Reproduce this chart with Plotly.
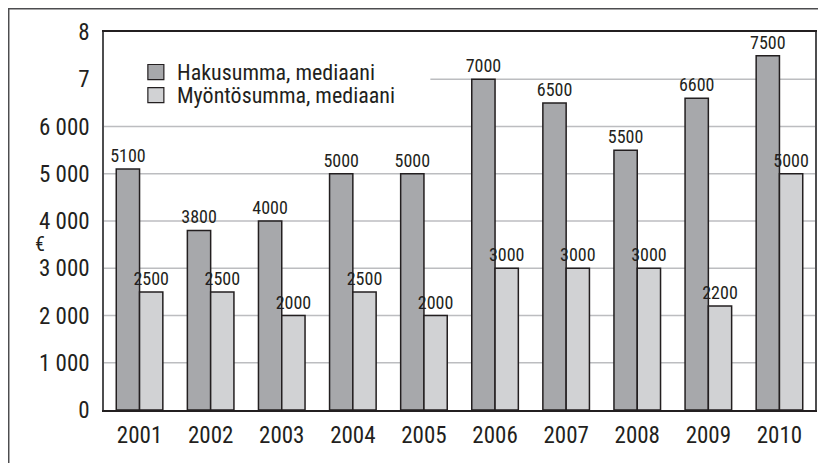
import plotly.graph_objects as go

years = ["2001", "2002", "2003", "2004", "2005", "2006", "2007", "2008", "2009", "2010"]
haku = [5100, 3800, 4000, 5000, 5000, 7000, 6500, 5500, 6600, 7500]
myonto = [2500, 2500, 2000, 2500, 2000, 3000, 3000, 3000, 2200, 5000]
series_names = ["Hakusumma, mediaani", "Myöntösumma, mediaani"]
series_colors = ["#a7a8ab", "#d1d2d4"]
ytick_vals = [0, 1000, 2000, 3000, 4000, 5000, 6000, 7000, 8000]
ytick_text = ["0", "1 000", "2 000", "3 000", "4 000", "5 000", "6 000", "7", "8"]

FONT = "Roboto Condensed, Liberation Sans Narrow, Arial Narrow, sans-serif"
INK = "#231f20"
GRID = "#bcbdc0"

fig = go.Figure()
for name, vals, col in zip(series_names, [haku, myonto], series_colors):
    fig.add_trace(go.Bar(
        x=years, y=vals, name=name,
        marker=dict(color=col, line=dict(color=INK, width=1.5)),
        text=[str(v) for v in vals],
        textposition="outside",
        constraintext="none",
        cliponaxis=False,
        textfont=dict(family=FONT, size=18, color=INK),
    ))

# horizontal grid; the 7000 line stops where the legend sits
for v in ytick_vals[1:7]:
    fig.add_shape(type="line", xref="paper", yref="y", x0=0, x1=1, y0=v, y1=v,
                  line=dict(color=GRID, width=1.5), layer="below")
fig.add_shape(type="line", xref="paper", yref="y", x0=0.459, x1=1, y0=7000, y1=7000,
              line=dict(color=GRID, width=1.5), layer="below")

# legend drawn by hand (big swatches, tight rows)
for i, (name, col) in enumerate(zip(series_names, series_colors)):
    yc = 0.894 - i * 0.061
    fig.add_shape(type="rect", xref="paper", yref="paper", x0=0.0617, x1=0.0842,
                  y0=yc - 0.02, y1=yc + 0.02, fillcolor=col, line=dict(color=INK, width=1.2))
    fig.add_annotation(text=name, xref="paper", yref="paper", x=0.1, y=yc,
                       xanchor="left", yanchor="middle", showarrow=False,
                       font=dict(family=FONT, size=22, color=INK))

# outer frame (page has an 8px body margin, so the figure starts at 8,8)
fig.add_shape(type="rect", xref="paper", yref="paper", x0=-0.134, x1=1.03, y0=-0.2, y1=1.0615,
              line=dict(color="#4d4d4f", width=1.5))

fig.add_annotation(text="€", xref="paper", yref="paper", x=-0.1, y=0.44,
                   showarrow=False, font=dict(family=FONT, size=20, color=INK))

fig.update_layout(
    width=818, height=455,
    margin=dict(l=96, r=9, t=24, b=53),
    paper_bgcolor="white", plot_bgcolor="white",
    barmode="group", bargap=0.345, bargroupgap=0,
    font=dict(family=FONT, color=INK),
    showlegend=False,
    xaxis=dict(showgrid=False, showline=True, mirror=True, linecolor=INK, linewidth=1.5,
               ticks="outside", ticklen=4, tickcolor="white",
               tickfont=dict(family=FONT, size=23, color=INK)),
    yaxis=dict(range=[0, 8000], tickvals=ytick_vals, ticktext=ytick_text,
               showgrid=False, zeroline=False, showline=True, mirror=True,
               linecolor="#4d4d4f", linewidth=1.5, ticks="outside", ticklen=8,
               tickcolor="white", tickfont=dict(family=FONT, size=23, color=INK)),
)

fig.write_html("out.html")
